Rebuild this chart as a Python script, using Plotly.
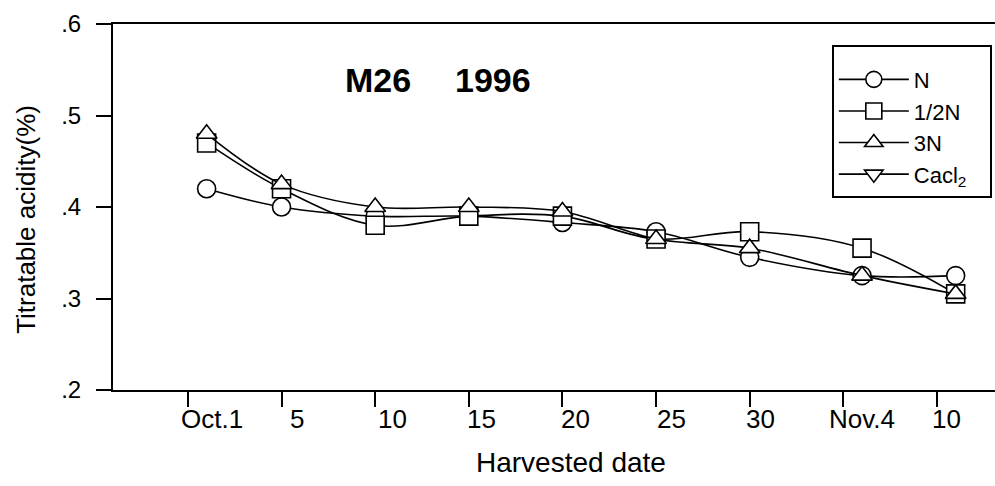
import plotly.graph_objects as go

# Harvest dates (days counted along the axis) and tick labels
tick_pos = [0, 5, 10, 15, 20, 25, 30, 35, 40]
tick_text = ["Oct.1", "5", "10", "15", "20", "25", "30", "Nov.4", "10"]
# label anchors sit a little to the right of their tick marks
label_pos = [1.3, 5.8, 10.9, 15.7, 20.7, 25.8, 30.6, 36.0, 40.5]
harvest_day = [1, 5, 10, 15, 20, 25, 30, 36, 41]

# Titratable acidity (%) per treatment
acid_N = [0.42, 0.40, 0.39, 0.39, 0.383, 0.373, 0.345, 0.325, 0.325]
acid_half_N = [0.47, 0.42, 0.38, 0.39, 0.39, 0.365, 0.373, 0.355, 0.305]
acid_3N = [0.48, 0.425, 0.40, 0.40, 0.395, 0.365, 0.355, 0.325, 0.305]
acid_CaCl2 = []

y_ticks = [0.2, 0.3, 0.4, 0.5, 0.6]
y_tick_text = [".2", ".3", ".4", ".5", ".6"]

FONT = "Liberation Sans, Arial, sans-serif"

series = [
    ("N", acid_N, "circle"),
    ("1/2N", acid_half_N, "square"),
    ("3N", acid_3N, "triangle-up"),
    # trailing spaces widen the legend box a little
    ("Cacl<sub>2</sub>&nbsp;&nbsp;&nbsp;", acid_CaCl2, "triangle-down"),
]

fig = go.Figure()
for i, (name, vals, sym) in enumerate(series):
    fig.add_trace(go.Scatter(
        x=harvest_day[:len(vals)] if vals else [None],
        y=vals if vals else [None],
        name=name,
        legendgroup=f"g{i}",
        mode="lines+markers",
        line=dict(color="black", width=1.6, shape="spline", smoothing=1.0),
        marker=dict(symbol=sym, size=18, color="white",
                    line=dict(color="black", width=1.6)),
    ))

fig.update_layout(
    width=995, height=486,
    margin=dict(l=113, r=0, t=24, b=96),
    paper_bgcolor="white", plot_bgcolor="white",
    font=dict(family=FONT, color="black"),
    showlegend=True,
    legend=dict(
        x=0.815, y=0.943, xanchor="left", yanchor="top",
        bordercolor="black", borderwidth=2, bgcolor="white",
        font=dict(size=22, family=FONT, color="black"),
        # blank spacer line pads the top of the box
        title=dict(text="&nbsp;", font=dict(size=9)),
        itemwidth=70, tracegroupgap=0,
    ),
    xaxis=dict(
        range=[-4.0, 43.1], tickmode="array", tickvals=tick_pos,
        showticklabels=False,
        showline=True, linecolor="black", linewidth=2, mirror=True,
        ticks="outside", ticklen=15, tickwidth=1.6, tickcolor="black",
        showgrid=False, zeroline=False,
    ),
    yaxis=dict(
        range=[0.2, 0.6], tickmode="array", tickvals=y_ticks, ticktext=y_tick_text,
        showline=True, linecolor="black", linewidth=2,
        ticks="outside", ticklen=15, tickwidth=1.6, tickcolor="black",
        showgrid=False, zeroline=False, ticklabelstandoff=10,
        tickfont=dict(size=24, family=FONT, color="black"),
    ),
)

# Date labels under the x axis
for pos, txt in zip(label_pos, tick_text):
    fig.add_annotation(text=txt, x=pos, xref="x", y=-0.079, yref="paper",
                       xanchor="center", yanchor="middle", showarrow=False,
                       font=dict(size=26, family=FONT, color="black"))

# Figure label
fig.add_annotation(text="<b>M26</b>", xref="paper", yref="paper", x=0.3008, y=0.847,
                   xanchor="center", yanchor="middle",
                   showarrow=False, font=dict(size=34, family=FONT, color="black"))
fig.add_annotation(text="<b>1996</b>", xref="paper", yref="paper", x=0.4303, y=0.847,
                   xanchor="center", yanchor="middle",
                   showarrow=False, font=dict(size=34, family=FONT, color="black"))

# Axis titles
fig.add_annotation(text="Titratable acidity(%)", xref="paper", yref="paper",
                   x=-0.0986, y=0.465, textangle=-90, showarrow=False,
                   xanchor="center", yanchor="middle",
                   font=dict(size=26, family=FONT, color="black"))
fig.add_annotation(text="Harvested date", xref="paper", yref="paper",
                   x=0.519, y=-0.197, showarrow=False,
                   xanchor="center", yanchor="middle",
                   font=dict(size=28, family=FONT, color="black"))

fig.write_html("out.html")
